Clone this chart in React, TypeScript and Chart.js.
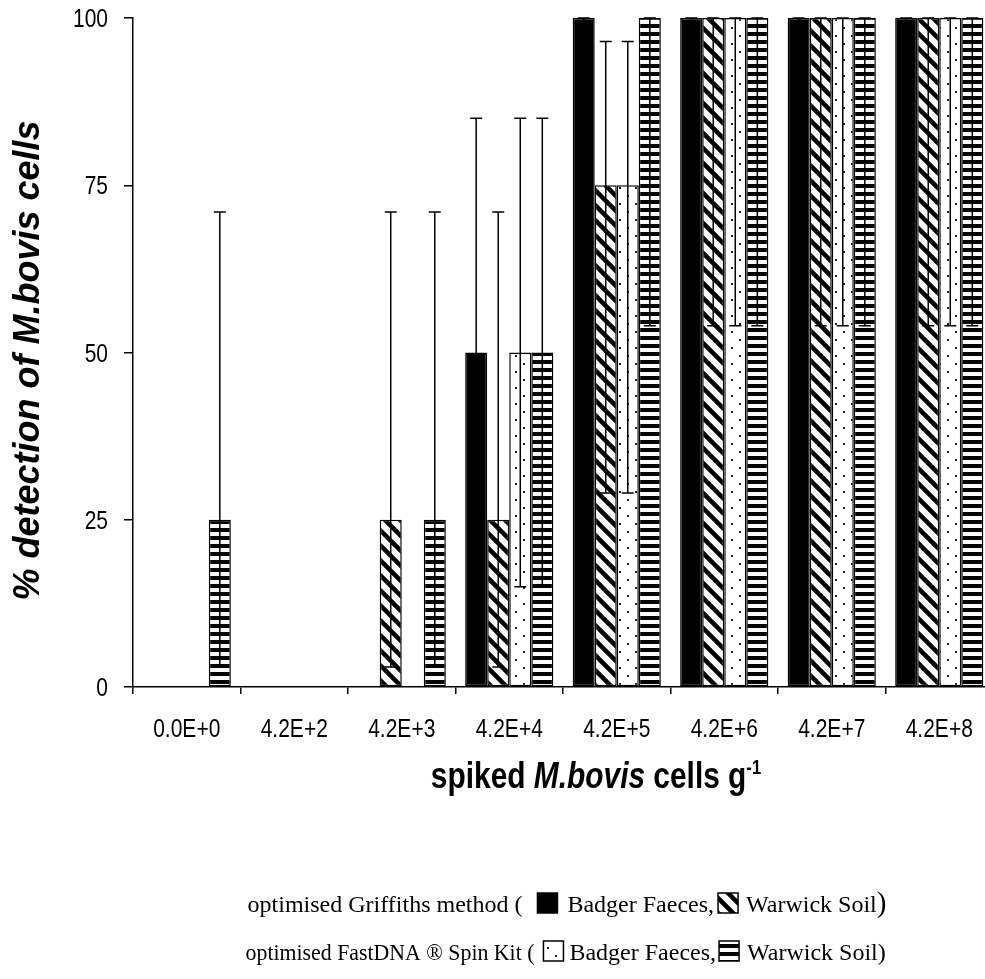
import React, { useEffect, useRef } from "react";
import { Chart, registerables } from "chart.js";

Chart.register(...registerables);

// ---------- data ----------
const categories = ["0.0E+0", "4.2E+2", "4.2E+3", "4.2E+4", "4.2E+5", "4.2E+6", "4.2E+7", "4.2E+8"];

const griffithsBadger = [0, 0, 0, 50, 100, 100, 100, 100];
const griffithsSoil = [0, 0, 25, 25, 75, 100, 100, 100];
const fastBadger = [0, 0, 0, 50, 75, 100, 100, 100];
const fastSoil = [25, 0, 25, 50, 100, 100, 100, 100];

// error bar bounds
const griffithsBadgerLow = [null, null, null, 15, 54, 54, 54, 54];
const griffithsBadgerHigh = [null, null, null, 85, 100, 100, 100, 100];
const griffithsSoilLow = [null, null, 3, 3, 29, 54, 54, 54];
const griffithsSoilHigh = [null, null, 71, 71, 96.5, 100, 100, 100];
const fastBadgerLow = [null, null, null, 15, 29, 54, 54, 54];
const fastBadgerHigh = [null, null, null, 85, 96.5, 100, 100, 100];
const fastSoilLow = [3, null, 3, 15, 54, 54, 54, 54];
const fastSoilHigh = [71, null, 71, 85, 100, 100, 100, 100];

const yTicks = [0, 25, 50, 75, 100];

const seriesNames = [
  "optimised Griffiths method - Badger Faeces",
  "optimised Griffiths method - Warwick Soil",
  "optimised FastDNA Spin Kit - Badger Faeces",
  "optimised FastDNA Spin Kit - Warwick Soil",
];

const errLows = [griffithsBadgerLow, griffithsSoilLow, fastBadgerLow, fastSoilLow];
const errHighs = [griffithsBadgerHigh, griffithsSoilHigh, fastBadgerHigh, fastSoilHigh];

const SANS = '"Liberation Sans", Arial, sans-serif';
const SERIF = '"Liberation Serif", "Times New Roman", serif';
const CONDENSE = 0.84;

// ---------- patterns ----------
function makePattern(kind: string): CanvasPattern | string {
  if (kind === "solid") return "#000";
  const c = document.createElement("canvas");
  const ctx = c.getContext("2d")!;
  if (kind === "hatch") {
    c.width = 15;
    c.height = 15;
    ctx.fillStyle = "#fff";
    ctx.fillRect(0, 0, 15, 15);
    ctx.strokeStyle = "#000";
    ctx.lineWidth = 4.5;
    for (const k of [-15, 0, 15]) {
      ctx.beginPath();
      ctx.moveTo(k - 2, -2);
      ctx.lineTo(k + 17, 17);
      ctx.stroke();
    }
  } else if (kind === "dots") {
    c.width = 16;
    c.height = 16;
    ctx.fillStyle = "#fff";
    ctx.fillRect(0, 0, 16, 16);
    ctx.fillStyle = "#222";
    ctx.fillRect(3, 3, 2, 2);
    ctx.fillRect(11, 11, 2, 2);
  } else if (kind === "hstripes") {
    c.width = 8;
    c.height = 8;
    ctx.fillStyle = "#fff";
    ctx.fillRect(0, 0, 8, 8);
    ctx.fillStyle = "#000";
    ctx.fillRect(0, 0, 8, 4);
  }
  return ctx.createPattern(c, "repeat")!;
}

// ---------- plugins ----------
const errorBarPlugin = {
  id: "errorBars",
  afterDatasetsDraw(chart: any) {
    const ctx = chart.ctx;
    const y = chart.scales.y;
    chart.data.datasets.forEach((_ds: any, di: number) => {
      const meta = chart.getDatasetMeta(di);
      meta.data.forEach((bar: any, i: number) => {
        const lo = errLows[di][i];
        const hi = errHighs[di][i];
        if (lo == null || hi == null) return;
        const x = bar.x;
        const yl = y.getPixelForValue(lo);
        const yh = y.getPixelForValue(hi);
        ctx.save();
        ctx.strokeStyle = "#000";
        ctx.lineWidth = 1.5;
        ctx.beginPath();
        ctx.moveTo(x, yl);
        ctx.lineTo(x, yh);
        ctx.moveTo(x - 6, yl);
        ctx.lineTo(x + 6, yl);
        ctx.moveTo(x - 6, yh);
        ctx.lineTo(x + 6, yh);
        ctx.stroke();
        ctx.restore();
      });
    });
  },
};

type Part = { text?: string; size?: number; gap?: number; swatch?: CanvasPattern | string; maxW?: number };

function partWidth(ctx: CanvasRenderingContext2D, p: Part) {
  if (p.text != null) {
    ctx.font = `${p.size || 24}px ${SERIF}`;
    const w = ctx.measureText(p.text).width;
    return p.maxW != null ? Math.min(w, p.maxW) : w;
  }
  if (p.gap != null) return p.gap;
  if (p.swatch) return 20;
  return 0;
}

function drawParts(ctx: CanvasRenderingContext2D, parts: Part[], startX: number, baseline: number) {
  let x = startX;
  for (const p of parts) {
    const w = partWidth(ctx, p);
    if (p.text != null) {
      ctx.font = `${p.size || 24}px ${SERIF}`;
      ctx.fillStyle = "#000";
      ctx.textAlign = "left";
      ctx.textBaseline = "alphabetic";
      if (p.maxW != null) ctx.fillText(p.text, x, baseline, p.maxW);
      else ctx.fillText(p.text, x, baseline);
    } else if (p.swatch) {
      ctx.fillStyle = p.swatch as any;
      ctx.fillRect(x, baseline - 19, 20, 20);
      ctx.strokeStyle = "#000";
      ctx.lineWidth = 1.5;
      ctx.strokeRect(x, baseline - 19, 20, 20);
    }
    x += w;
  }
}

function makeTextPlugin(pats: (CanvasPattern | string)[]) {
  return {
    id: "texts",
    afterDraw(chart: any) {
      const ctx: CanvasRenderingContext2D = chart.ctx;
      const area = chart.chartArea;
      const xs = chart.scales.x;
      const ys = chart.scales.y;

      // tick labels (condensed like the reference)
      ctx.save();
      ctx.fillStyle = "#000";
      ctx.font = `25px ${SANS}`;
      ctx.textBaseline = "alphabetic";
      categories.forEach((lab, i) => {
        const px = xs.getPixelForTick(i);
        ctx.save();
        ctx.translate(px, 737);
        ctx.scale(CONDENSE, 1);
        ctx.textAlign = "center";
        ctx.fillText(lab, 0, 0);
        ctx.restore();
      });
      yTicks.forEach((v) => {
        const py = ys.getPixelForValue(v);
        ctx.save();
        ctx.translate(area.left - 25, py + 9);
        ctx.scale(CONDENSE, 1);
        ctx.textAlign = "right";
        ctx.fillText(String(v), 0, 0);
        ctx.restore();
      });
      ctx.restore();

      // y-axis title
      ctx.save();
      ctx.translate(29, (area.top + area.bottom) / 2 + 8);
      ctx.rotate(-Math.PI / 2);
      ctx.font = `italic bold 36px ${SANS}`;
      ctx.fillStyle = "#000";
      ctx.textAlign = "center";
      ctx.textBaseline = "middle";
      ctx.fillText("% detection of M.bovis cells", 0, 0);
      ctx.restore();

      // x-axis title with mixed styles
      ctx.save();
      const pieces = [
        { t: "spiked ", f: `bold 36px ${SANS}`, dy: 0 },
        { t: "M.bovis", f: `italic bold 36px ${SANS}`, dy: 0 },
        { t: " cells g", f: `bold 36px ${SANS}`, dy: 0 },
        { t: "-1", f: `bold 20px ${SANS}`, dy: -14 },
      ];
      let w = 0;
      for (const p of pieces) {
        ctx.font = p.f;
        w += ctx.measureText(p.t).width;
      }
      ctx.translate(596, 788);
      ctx.scale(0.83, 1);
      let x = -w / 2;
      ctx.fillStyle = "#000";
      ctx.textBaseline = "alphabetic";
      ctx.textAlign = "left";
      for (const p of pieces) {
        ctx.font = p.f;
        ctx.fillText(p.t, x, p.dy);
        x += ctx.measureText(p.t).width;
      }
      ctx.restore();

      // legend
      ctx.save();
      const head1 = "optimised Griffiths method (";
      const line1: Part[] = [
        { text: head1 },
        { gap: 15 },
        { swatch: pats[0] },
        { gap: 10 },
        { text: "Badger Faeces," },
        { gap: 4 },
        { swatch: pats[1] },
        { gap: 8 },
        { text: "Warwick Soil" },
        { text: ")", size: 29 },
      ];
      let total = 0;
      for (const p of line1) total += partWidth(ctx, p);
      const start1 = 567 - total / 2;
      drawParts(ctx, line1, start1, 912);
      const headEnd = start1 + partWidth(ctx, { text: head1 });

      const start2 = start1 - 2;
      const line2: Part[] = [
        { text: "optimised FastDNA \u00AE Spin Kit (", maxW: headEnd + 12 - start2 },
        { gap: 9 },
        { swatch: pats[2] },
        { gap: 6 },
        { text: "Badger Faeces," },
        { gap: 3 },
        { swatch: pats[3] },
        { gap: 8 },
        { text: "Warwick Soil)" },
      ];
      drawParts(ctx, line2, start2, 960);
      ctx.restore();
    },
  };
}

export default function App() {
  const ref = useRef<HTMLCanvasElement>(null);

  useEffect(() => {
    const pats = [makePattern("solid"), makePattern("hatch"), makePattern("dots"), makePattern("hstripes")];
    const values = [griffithsBadger, griffithsSoil, fastBadger, fastSoil];
    const chart = new Chart(ref.current!, {
      type: "bar",
      data: {
        labels: categories,
        datasets: values.map((v, i) => ({
          label: seriesNames[i],
          data: v,
          backgroundColor: pats[i] as any,
          borderColor: "#000",
          borderWidth: 1.5,
          borderSkipped: false,
          categoryPercentage: 0.82,
          barPercentage: 1.0,
        })),
      },
      options: {
        responsive: false,
        animation: false,
        layout: { padding: { top: 18, left: 0, right: 0, bottom: 0 } },
        plugins: {
          legend: { display: false },
          tooltip: { enabled: false },
          title: { display: false },
        },
        scales: {
          x: {
            grid: { drawOnChartArea: false, drawTicks: true, tickLength: 7, color: "#000", lineWidth: 1.5, offset: true },
            border: { color: "#000", width: 1.5 },
            ticks: { display: false },
            afterFit: (scale: any) => {
              scale.height = 292;
            },
          },
          y: {
            min: 0,
            max: 100,
            grid: { drawOnChartArea: false, drawTicks: true, tickLength: 9, color: "#000", lineWidth: 1.5 },
            border: { color: "#000", width: 1.5 },
            ticks: { display: false, stepSize: 25 },
            afterFit: (scale: any) => {
              scale.width = 133;
            },
          },
        },
      },
      plugins: [errorBarPlugin, makeTextPlugin(pats)],
    } as any);
    return () => chart.destroy();
  }, []);

  return (
    <div
      style={{
        position: "fixed",
        left: 0,
        top: 0,
        width: 985,
        height: 979,
        overflow: "hidden",
        background: "#fff",
      }}
    >
      <canvas ref={ref} width={993} height={979} style={{ display: "block" }} />
    </div>
  );
}
